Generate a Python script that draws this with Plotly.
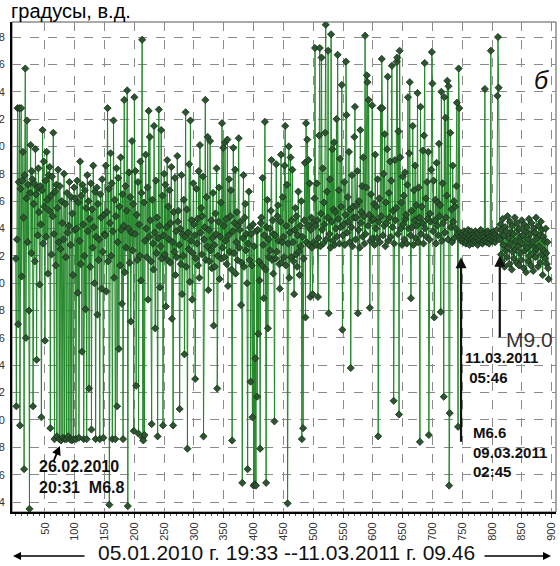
import plotly.graph_objects as go

# Longitude of epicentres (degrees east), one value per event in the catalogue
seg01 = [131.8, 121.0, 133.2, 142.8, 127.0, 137.4, 142.8, 119.6, 136.9, 142.8, 130.5, 137.5, 139.6, 134.8, 116.4, 137.9, 145.7, 126.0, 136.2, 141.9, 133.0, 137.2, 128.0, 113.5, 136.6, 140.1, 132.2, 138.2, 137.6, 121.0, 135.8, 137.3, 131.6, 139.8, 136.5, 124.4, 137.0, 133.5, 138.4, 135.2, 129.9, 137.1, 134.3, 120.2, 136.8, 141.2, 132.9, 138.9, 135.6, 125.8]
seg02 = [137.5, 133.4, 139.6, 136.1, 130.7, 137.9, 135.3, 138.5, 119.4, 136.4, 132.1, 137.8, 134.9, 141.0, 133.6, 118.6, 136.7, 131.3, 137.2, 118.8, 135.5, 138.3, 133.0, 118.6, 137.1, 132.5, 118.5, 136.0, 134.4, 118.7, 133.2, 138.0, 118.6, 135.8, 131.9, 118.6, 136.6, 133.7, 118.8, 134.2, 137.4, 118.6, 132.8, 136.3, 118.5, 135.1, 130.6, 118.6, 137.0, 133.9]
seg03 = [136.2, 118.6, 134.0, 137.5, 129.3, 135.9, 118.7, 133.1, 138.9, 131.4, 136.4, 125.0, 137.2, 134.3, 118.6, 132.0, 136.8, 128.1, 135.5, 118.6, 137.9, 133.8, 136.0, 122.3, 134.7, 131.2, 137.3, 119.3, 135.4, 132.6, 138.6, 134.1, 130.0, 136.7, 118.6, 133.4, 137.0, 127.7, 135.8, 131.7, 133.2, 118.6, 136.5, 134.8, 129.6, 137.6, 132.3, 118.7, 135.0, 133.6]
seg04 = [133.5, 138.6, 129.4, 135.2, 142.8, 131.6, 136.9, 113.8, 134.4, 139.5, 132.0, 137.3, 118.6, 133.8, 141.9, 130.4, 136.1, 118.6, 134.9, 138.4, 121.0, 133.0, 137.7, 125.2, 135.6, 131.3, 139.2, 133.9, 128.5, 136.5, 118.6, 134.2, 143.4, 130.8, 137.1, 132.6, 135.3, 144.1, 113.7, 134.0, 138.1, 131.5, 136.3, 127.2, 133.7, 140.4, 132.4, 135.8, 119.2, 143.6]
seg05 = [133.6, 138.2, 122.5, 135.0, 131.7, 137.4, 119.0, 134.3, 132.0, 138.9, 130.2, 136.6, 147.8, 118.7, 118.5, 135.9, 118.9, 133.1, 139.4, 134.0, 131.9, 137.0, 128.8, 142.6, 133.4, 140.7, 134.6, 131.6, 119.7, 136.1, 132.9, 131.0, 141.5, 133.7, 126.7, 137.5, 132.2, 134.8, 118.8, 133.3, 142.7, 134.2, 129.7, 132.7, 141.2, 131.8, 136.4, 119.6, 133.5, 138.0]
seg06 = [132.1, 137.2, 128.3, 134.1, 139.0, 131.7, 135.6, 133.2, 136.8, 131.5, 134.4, 138.5, 127.4, 133.0, 119.6, 135.2, 132.3, 137.7, 130.6, 133.8, 131.9, 139.3, 134.5, 135.3, 132.8, 120.8, 134.0, 131.4, 137.9, 129.2, 133.6, 132.0, 136.1, 124.8, 133.4, 142.5, 131.2, 135.4, 117.9, 133.7, 132.5, 138.7, 130.1, 141.9, 133.1, 134.6, 128.8, 132.2, 137.3, 134.3]
seg07 = [133.5, 123.0, 131.8, 136.9, 132.9, 134.7, 131.3, 138.2, 130.4, 140.1, 133.7, 135.5, 132.1, 134.9, 137.8, 118.8, 133.2, 134.1, 143.4, 131.7, 136.3, 132.7, 140.7, 129.5, 133.9, 131.6, 140.4, 132.4, 134.6, 131.1, 133.3, 136.6, 126.9, 132.8, 131.2, 135.1, 133.6, 138.4, 122.3, 132.0, 134.5, 137.0, 130.3, 133.4, 135.9, 131.8, 141.7, 132.6, 139.9, 134.2]
seg08 = [131.9, 140.3, 133.1, 134.7, 131.4, 140.5, 129.8, 133.5, 137.6, 132.3, 134.9, 136.8, 131.0, 118.5, 133.8, 139.9, 132.2, 134.4, 138.3, 130.7, 133.0, 135.2, 131.7, 134.2, 140.6, 132.6, 133.9, 134.5, 128.4, 131.5, 115.4, 133.3, 137.9, 131.2, 134.8, 135.8, 132.4, 133.6, 130.0, 116.4, 132.9, 136.7, 131.7, 134.1, 122.8, 133.6, 131.3, 120.2, 134.3, 115.2]
seg09 = [132.7, 115.3, 124.5, 115.2, 133.8, 121.7, 133.9, 126.3, 131.6, 130.2, 117.9, 134.4, 134.8, 131.3, 137.7, 132.8, 128.9, 133.5, 141.8, 131.0, 115.4, 134.1, 136.1, 126.7, 133.2, 131.9, 134.0, 132.4, 135.3, 139.0, 131.7, 134.6, 130.7, 133.6, 119.9, 133.5, 131.8, 138.7, 132.3, 134.9, 135.7, 133.1, 131.4, 129.6, 134.5, 139.4, 131.5, 133.0, 136.3, 133.4]
seg10 = [131.9, 138.6, 141.5, 131.3, 134.2, 137.2, 113.9, 132.9, 140.0, 130.4, 133.7, 139.2, 131.9, 134.6, 138.3, 133.0, 131.6, 129.2, 133.9, 135.5, 132.1, 134.9, 131.2, 133.5, 136.7, 132.3, 130.6, 134.2, 132.7, 136.0, 118.6, 133.4, 119.4, 131.8, 134.6, 138.8, 127.5, 141.7, 133.0, 140.5, 134.2, 139.0, 132.8, 137.3, 129.0, 133.9, 134.8, 132.6, 129.2, 134.4]
seg11 = [133.0, 136.2, 147.2, 134.2, 132.8, 137.3, 134.6, 129.0, 133.3, 140.8, 147.2, 132.7, 135.1, 146.5, 133.9, 138.4, 132.9, 135.9, 134.3, 141.0, 148.9, 133.2, 136.7, 134.8, 147.0, 127.8, 133.6, 137.6, 132.6, 148.2, 134.5, 139.8, 133.1, 135.4, 140.3, 132.8, 135.2, 134.0, 142.0, 133.4, 146.7, 134.7, 136.8, 132.9, 139.1, 134.1, 135.6, 144.5, 126.6, 133.5]
seg12 = [134.3, 137.4, 132.8, 135.0, 146.2, 142.3, 133.7, 136.3, 134.5, 139.6, 133.0, 135.4, 123.8, 134.1, 137.9, 132.7, 135.6, 134.8, 140.7, 142.9, 133.2, 134.8, 135.7, 138.2, 127.8, 133.9, 136.0, 132.6, 141.2, 134.4, 135.2, 137.1, 133.4, 139.2, 134.9, 132.9, 148.1, 133.6, 137.0, 145.2, 144.7, 134.2, 143.4, 135.0, 128.2, 133.1, 136.5, 134.6, 143.0, 133.3]
seg13 = [134.7, 135.8, 132.8, 139.4, 134.0, 135.6, 133.3, 137.6, 118.8, 134.5, 136.2, 133.0, 142.8, 134.9, 146.4, 142.8, 133.5, 138.0, 134.2, 140.9, 132.7, 135.9, 134.4, 139.8, 145.1, 133.1, 136.6, 134.8, 138.9, 133.4, 137.5, 145.9, 134.1, 135.3, 121.4, 132.9, 139.0, 134.6, 135.5, 146.2, 146.5, 133.6, 141.1, 120.4, 147.0, 139.2, 134.0, 135.9, 132.8, 137.8]
seg14 = [134.3, 136.4, 133.2, 138.1, 134.7, 135.0, 132.9, 137.2, 143.6, 134.0, 139.5, 144.7, 133.5, 128.9, 135.3, 134.1, 141.5, 132.8, 136.8, 134.6, 138.6, 133.3, 135.7, 134.2, 143.9, 133.0, 137.0, 134.8, 118.4, 142.9, 133.6, 135.6, 134.4, 139.7, 132.9, 140.8, 146.1, 134.0, 136.2, 133.4, 137.4, 134.7, 139.6, 118.9, 133.2, 135.1, 134.5, 138.3, 146.9, 144.6]
seg15 = [133.8, 137.5, 127.5, 134.6, 136.1, 132.9, 138.8, 134.2, 135.9, 133.5, 140.2, 134.9, 135.7, 127.9, 144.0, 133.1, 137.3, 134.4, 121.7, 143.6, 133.7, 142.1, 134.8, 136.4, 144.8, 133.2, 144.4, 115.2, 120.5, 141.0, 134.1, 135.4, 133.0, 138.6, 134.5, 136.0, 133.3, 135.6, 134.0, 137.1, 143.2, 133.6, 119.5, 145.7, 142.8, 133.4, 133.7, 133.1, 133.5, 133.2]
seg16 = [133.6, 133.0, 133.8, 133.2, 133.4, 132.9, 133.7, 133.1, 133.3, 133.9, 133.5, 132.8, 133.4, 133.2, 133.8, 133.0, 133.3, 132.9, 133.6, 133.1, 133.4, 133.8, 133.0, 133.6, 133.3, 132.8, 133.7, 133.1, 133.5, 133.2, 133.9, 133.4, 133.0, 132.9, 133.6, 133.1, 133.4, 144.2, 133.2, 133.7, 133.0, 133.3, 133.8, 133.6, 132.9, 133.4, 133.2, 147.0, 133.5, 133.7]
seg17 = [133.1, 133.4, 133.8, 133.6, 133.0, 133.5, 133.3, 133.9, 143.7, 148.0, 144.3, 133.4, 133.2, 134.3, 132.1, 133.9, 131.6, 134.7, 132.8, 133.5, 131.2, 134.1, 132.4, 133.8, 131.9, 134.9, 132.6, 133.3, 131.4, 134.5, 132.9, 133.7, 131.0, 134.2, 132.3, 133.6, 131.8, 134.8, 132.5, 133.1, 131.5, 134.4, 132.7, 133.9, 131.3, 134.0, 132.2, 133.4, 131.7, 134.6]
seg18 = [132.9, 133.5, 131.1, 134.3, 132.4, 133.8, 130.8, 134.1, 132.6, 133.2, 131.6, 134.7, 132.0, 133.6, 131.3, 134.4, 132.8, 133.0, 130.9, 134.0, 132.3, 133.7, 131.9, 134.8, 132.5, 133.3, 131.2, 134.2, 132.7, 133.5, 131.5, 134.5, 132.1, 133.9, 130.6, 133.4, 132.4, 133.1, 131.8, 134.0, 132.2, 131.4, 133.0, 131.1, 130.3]

longitude = (seg01 + seg02 + seg03 + seg04 + seg05 + seg06 + seg07 + seg08 + seg09
             + seg10 + seg11 + seg12 + seg13 + seg14 + seg15 + seg16 + seg17 + seg18)
event_no = list(range(1, len(longitude) + 1))

y_ticks = list(range(114, 150, 2))
y_ticktext = [str(v)[-1] for v in y_ticks]
x_ticks = list(range(50, 901, 50))

# Marked earthquakes: (event number, longitude the arrow points at)
quake_m68 = (75, 118.1)
quake_m66 = (748, 131.9)
quake_m90 = (813, 132.0)

FONT = "Liberation Sans, Arial, sans-serif"

# plot area in pixels: left 12, right 556, top 22, bottom 512
L, R, T, B = 12, 556, 22, 512


def paper(xp, yp):
    return (xp - L) / (R - L), (B - yp) / (B - T)


fig = go.Figure()
fig.add_trace(go.Scatter(
    x=event_no, y=longitude, mode="lines+markers",
    line=dict(color="#23872a", width=1),
    marker=dict(symbol="diamond", size=5.5, color="#2c5530",
                line=dict(color="#142e16", width=0.8)),
    showlegend=False, hoverinfo="x+y",
))

annotations = []

# y-axis caption
px_, py_ = paper(9, 11)
annotations.append(dict(xref="paper", yref="paper", x=px_, y=py_, xanchor="left", yanchor="middle",
                        text="градусы, в.д.", showarrow=False,
                        font=dict(family=FONT, size=20, color="#000")))

# panel letter
px_, py_ = paper(541, 80)
annotations.append(dict(xref="paper", yref="paper", x=px_, y=py_, xanchor="center", yanchor="middle",
                        text="<i>б</i>", showarrow=False,
                        font=dict(family=FONT, size=25, color="#111")))

# time span caption with arrows
px_, py_ = paper(286, 552)
annotations.append(dict(xref="paper", yref="paper", x=px_, y=py_, xanchor="center", yanchor="middle",
                        text="05.01.2010 г. 19:33 --11.03.2011 г. 09.46", showarrow=False,
                        font=dict(family=FONT, size=21, color="#111")))
hx, hy = paper(13, 556)
annotations.append(dict(xref="paper", yref="paper", x=hx, y=hy, ax=73, ay=0, text="",
                        showarrow=True, arrowhead=2, arrowsize=1, arrowwidth=1.6, arrowcolor="#000"))
hx, hy = paper(551, 556)
annotations.append(dict(xref="paper", yref="paper", x=hx, y=hy, ax=-68, ay=0, text="",
                        showarrow=True, arrowhead=2, arrowsize=1, arrowwidth=1.6, arrowcolor="#000"))

# M6.8
annotations.append(dict(xref="x", yref="y", x=quake_m68[0], y=quake_m68[1], ax=-7, ay=17, text="",
                        showarrow=True, arrowhead=2, arrowsize=1, arrowwidth=1.8, arrowcolor="#000"))
px_, py_ = paper(37, 477)
annotations.append(dict(xref="paper", yref="paper", x=px_, y=py_, xanchor="left", yanchor="middle",
                        align="left", text="<b>26.02.2010<br>20:31  M6.8</b>", showarrow=False,
                        font=dict(family=FONT, size=16, color="#111")))

# M6.6
annotations.append(dict(xref="x", yref="y", x=quake_m66[0], y=quake_m66[1], ax=0, ay=186, text="",
                        showarrow=True, arrowhead=2, arrowsize=1, arrowwidth=2.2, arrowcolor="#111"))
px_, py_ = paper(471, 452)
annotations.append(dict(xref="paper", yref="paper", x=px_, y=py_, xanchor="left", yanchor="middle",
                        align="left", text="<b>M6.6<br>09.03.2011<br>02:45</b>", showarrow=False,
                        font=dict(family=FONT, size=15, color="#111")))

# M9.0
annotations.append(dict(xref="x", yref="y", x=quake_m90[0], y=quake_m90[1], ax=0, ay=83, text="",
                        showarrow=True, arrowhead=2, arrowsize=1, arrowwidth=2.2, arrowcolor="#111"))
px_, py_ = paper(504, 339)
annotations.append(dict(xref="paper", yref="paper", x=px_, y=py_, xanchor="left", yanchor="middle",
                        text="M9.0", showarrow=False,
                        font=dict(family=FONT, size=21, color="#333")))
px_, py_ = paper(463, 367)
annotations.append(dict(xref="paper", yref="paper", x=px_, y=py_, xanchor="left", yanchor="middle",
                        align="left", text="<b>11.03.2011<br> 05:46</b>", showarrow=False,
                        font=dict(family=FONT, size=15, color="#111")))

fig.update_layout(
    width=560, height=566,
    margin=dict(l=L, r=560 - R, t=T, b=566 - B, autoexpand=False),
    paper_bgcolor="white", plot_bgcolor="white",
    font=dict(family=FONT, color="#222"),
    annotations=annotations,
    shapes=[dict(type="rect", xref="paper", yref="paper", x0=0, x1=1, y0=0, y1=1,
                 line=dict(color="#555", width=1), layer="below")],
    xaxis=dict(
        range=[-5.3, 907.3], tickvals=x_ticks, tickangle=-90,
        tickfont=dict(size=11, color="#333"), ticks="outside", ticklen=4, tickcolor="#333",
        showline=True, linecolor="#000", linewidth=2,
        showgrid=True, gridcolor="#8a8a8a", griddash="dash", gridwidth=1,
        minor=dict(dtick=10, ticks="outside", ticklen=2, tickcolor="#555", showgrid=False),
        zeroline=False, automargin=False,
    ),
    yaxis=dict(
        range=[113.27, 149.1], tickvals=y_ticks, ticktext=y_ticktext,
        tickfont=dict(size=11, color="#333"), ticks="", ticklabelstandoff=3,
        showline=True, linecolor="#000", linewidth=2,
        showgrid=True, gridcolor="#8a8a8a", griddash="dash", gridwidth=1,
        zeroline=False, automargin=False,
    ),
)

fig.write_html("out.html")
